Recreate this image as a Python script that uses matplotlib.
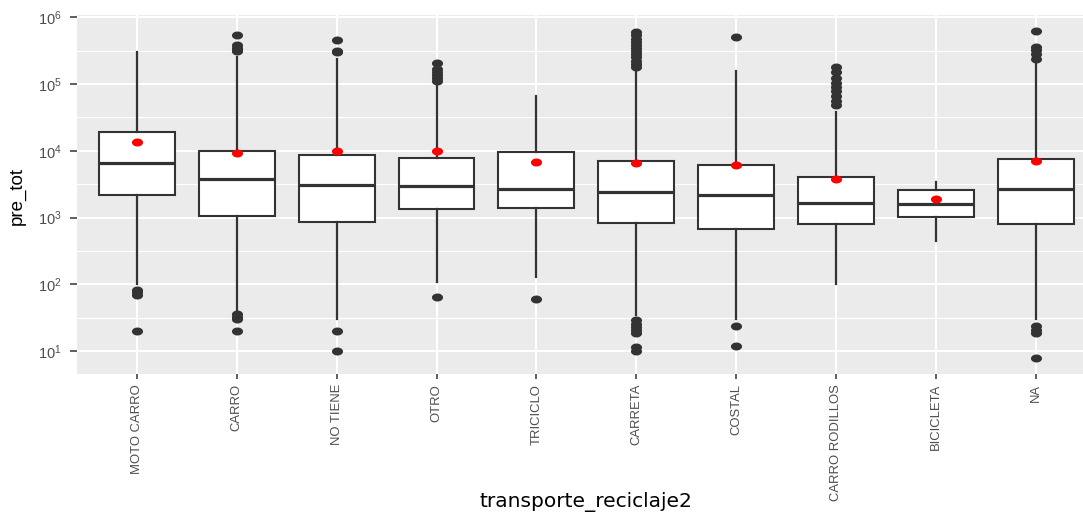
import numpy as np
import matplotlib
matplotlib.use('Agg')
import matplotlib.pyplot as plt
from matplotlib.path import Path
from matplotlib.ticker import FixedLocator, LogFormatterSciNotation, NullFormatter

plt.rcParams['font.family'] = ['Liberation Sans', 'DejaVu Sans']
plt.rcParams['mathtext.fontset'] = 'custom'
plt.rcParams['mathtext.rm'] = 'Liberation Sans'
plt.rcParams['mathtext.it'] = 'Liberation Sans:italic'
plt.rcParams['mathtext.bf'] = 'Liberation Sans:bold'

# values
categories = ['MOTO CARRO', 'CARRO', 'NO TIENE', 'OTRO', 'TRICICLO', 'CARRETA',
              'COSTAL', 'CARRO RODILLOS', 'BICICLETA', 'NA']
q1 = [2210, 1060, 853, 1350, 1410, 824, 677, 795, 1035, 806]
medians = [6590, 3840, 3120, 2950, 2690, 2430, 2160, 1680, 1620, 2690]
q3 = [19000, 10000, 8700, 7830, 9730, 6980, 6150, 4110, 2600, 7640]
whis_low = [100, 39, 30, 108, 131, 35, 30.5, 100, 453, 30.5]
whis_high = [305000, 257000, 238000, 103000, 65600, 170000, 157000, 37900, 3460, 204000]
means = [13600, 9300, 9850, 9850, 6820, 6510, 6150, 3760, 1905, 6980]
outliers = [
    [83, 76, 70, 20],
    [543000, 385000, 350000, 320000, 309000, 36, 33, 30, 20],
    [457000, 313000, 300000, 20, 10],
    [209000, 170000, 150000, 135000, 122000, 112000, 65],
    [60],
    [600000, 540000, 480000, 430000, 385000, 345000, 310000, 280000, 250000,
     225000, 200000, 182000, 29, 26, 23, 21, 19, 11.7, 10.2],
    [513000, 24, 11.9],
    [178000, 150000, 125000, 105000, 90000, 78000, 66000, 56000, 48500],
    [],
    [624000, 360000, 320000, 280000, 240000, 24, 21, 18.5, 7.85],
]

W, H = 1083, 512
fig = plt.figure(figsize=(W / 100, H / 100), dpi=100)
ax = fig.add_axes([77 / W, 1 - 374 / H, (W - 77) / W, 359 / H])
ax.set_facecolor('#EBEBEB')
for s in ax.spines.values():
    s.set_visible(False)

# squashed dots like in the picture
t = np.linspace(0, 2 * np.pi, 41)
ell = Path(np.column_stack([np.cos(t), 0.72 * np.sin(t)]), closed=True)

stats = []
for i in range(len(categories)):
    stats.append(dict(med=medians[i], q1=q1[i], q3=q3[i], whislo=whis_low[i],
                      whishi=whis_high[i], fliers=outliers[i], label=categories[i]))

pos = np.arange(1, len(categories) + 1)
ax.set_yscale('log')
ax.bxp(stats, positions=pos, widths=0.76, showcaps=False, patch_artist=True,
       boxprops=dict(facecolor='white', edgecolor='#333333', linewidth=1.5),
       whiskerprops=dict(color='#333333', linewidth=1.6),
       medianprops=dict(color='#333333', linewidth=2.3),
       flierprops=dict(marker=ell, markersize=8, markerfacecolor='#333333',
                       markeredgecolor='none'),
       zorder=3)
ax.plot(pos, means, linestyle='none', marker=ell, markersize=8, color='red',
        markeredgecolor='none', zorder=4)

ax.set_xlim(0.402, 10.47)
ax.set_ylim(10 ** 0.66, 10 ** 6.034)

ax.yaxis.set_major_locator(FixedLocator([10.0 ** k for k in range(1, 7)]))
ax.yaxis.set_major_formatter(LogFormatterSciNotation())
ax.yaxis.set_minor_locator(FixedLocator([10.0 ** (k + 0.5) for k in range(0, 6)]))
ax.yaxis.set_minor_formatter(NullFormatter())
ax.grid(True, which='major', color='white', linewidth=1.5, zorder=0)
ax.grid(True, which='minor', axis='y', color='white', linewidth=0.8, zorder=0)
ax.set_axisbelow(True)

ax.set_xticks(pos)
ax.set_xticklabels(categories, rotation=90, va='top', ha='center',
                   fontsize=9.4, color='#4D4D4D')
ax.tick_params(axis='x', length=3.6, width=1.1, color='#333333', pad=3.5)
ax.tick_params(axis='y', which='major', length=5, width=1.1, color='#333333',
               pad=6, labelsize=10.5, labelcolor='#4D4D4D')
ax.tick_params(axis='y', which='minor', length=0)

fig.text(17.5 / W, 1 - 196 / H, 'pre_tot', rotation=90, ha='center', va='center',
         fontsize=13.5)
fig.text(586 / W, 1 - 507.5 / H, 'transporte_reciclaje2', ha='center', va='baseline',
         family='DejaVu Sans', fontsize=14.5)

fig.savefig('out.png', dpi=100)
